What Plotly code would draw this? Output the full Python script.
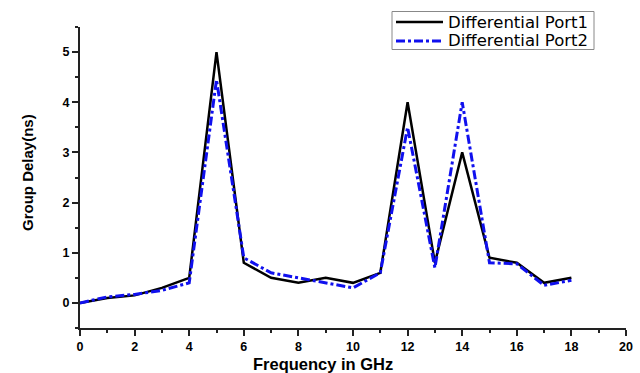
import plotly.graph_objects as go

freq = [0, 1, 2, 3, 4, 5, 6, 7, 8, 9, 10, 11, 12, 13, 14, 15, 16, 17, 18]
port1 = [0, 0.1, 0.15, 0.3, 0.5, 5.0, 0.8, 0.5, 0.4, 0.5, 0.4, 0.6, 4.0, 0.8, 3.0, 0.9, 0.8, 0.4, 0.5]
port2 = [0, 0.12, 0.17, 0.25, 0.4, 4.45, 0.9, 0.6, 0.5, 0.4, 0.3, 0.6, 3.5, 0.7, 4.0, 0.8, 0.78, 0.35, 0.45]
series_names = ["Differential Port1", "Differential Port2"]
xticks = [0, 2, 4, 6, 8, 10, 12, 14, 16, 18, 20]
yticks = [0, 1, 2, 3, 4, 5]

W, H = 640, 373
ML, MR, MT, MB = 80, 14, 27, 45
PW, PH = W - ML - MR, H - MT - MB
FONT = "Liberation Sans, Arial, sans-serif"
colors = ["black", "#1010ee"]
widths = [2.5, 3]
dashes = ["solid", "dashdot"]

fig = go.Figure()
for ys, nm, c, w, d in zip([port1, port2], series_names, colors, widths, dashes):
    fig.add_trace(go.Scatter(x=freq, y=ys, mode="lines", name=nm, showlegend=False,
                             line=dict(color=c, width=w, dash=d)))

def px(x):
    return (x - ML) / PW

def py(y):
    return (H - MB - y) / PH

shapes = [dict(type="rect", xref="paper", yref="paper", x0=px(392), x1=px(594), y0=py(49.5), y1=py(11.5),
               line=dict(color="#888888", width=1), fillcolor="white", layer="above")]
annotations = []
rows_y = [22, 41]
for ry, nm, c, w, d in zip(rows_y, series_names, colors, widths, dashes):
    shapes.append(dict(type="line", xref="paper", yref="paper", x0=px(396), x1=px(443), y0=py(ry), y1=py(ry),
                       line=dict(color=c, width=w, dash=d), layer="above"))
    annotations.append(dict(text=nm, xref="paper", yref="paper", x=px(446), y=py(ry), xanchor="left",
                            yanchor="middle", showarrow=False,
                            font=dict(size=16.5, family="DejaVu Sans, Arial, sans-serif", color="black")))

annotations.append(dict(text="<b>Frequency in GHz</b>", xref="paper", yref="paper", x=px(323), y=py(364),
                        xanchor="center", yanchor="middle", showarrow=False,
                        font=dict(size=16.5, family=FONT, color="black")))
annotations.append(dict(text="<b>Group Delay(ns)</b>", xref="paper", yref="paper", x=px(27), y=py(173),
                        xanchor="center", yanchor="middle", showarrow=False, textangle=-90,
                        font=dict(size=15, family=FONT, color="black")))

fig.update_layout(
    width=W, height=H,
    margin=dict(l=ML, r=MR, t=MT, b=MB),
    paper_bgcolor="white", plot_bgcolor="white",
    font=dict(family=FONT, color="black"),
    showlegend=False,
    shapes=shapes, annotations=annotations,
    xaxis=dict(range=[0, 20], tickvals=xticks, ticktext=[f"<b>{t}</b>" for t in xticks],
               showgrid=False, zeroline=False, showline=True, linecolor="#222222", linewidth=2,
               ticks="outside", ticklen=6, tickwidth=2, tickcolor="#222222", automargin=False,
               minor=dict(dtick=1, ticks="outside", ticklen=3, tickwidth=2, tickcolor="#222222"),
               tickfont=dict(size=12.5)),
    yaxis=dict(range=[-0.5, 5.5], tickvals=yticks, ticktext=[f"<b>{t}</b>" for t in yticks],
               showgrid=False, zeroline=False, showline=True, linecolor="#222222", linewidth=2,
               ticks="outside", ticklen=6, tickwidth=2, tickcolor="#222222", automargin=False,
               minor=dict(dtick=0.5, ticks="outside", ticklen=3, tickwidth=2, tickcolor="#222222"),
               tickfont=dict(size=12.5)),
)
fig.write_html("out.html")
